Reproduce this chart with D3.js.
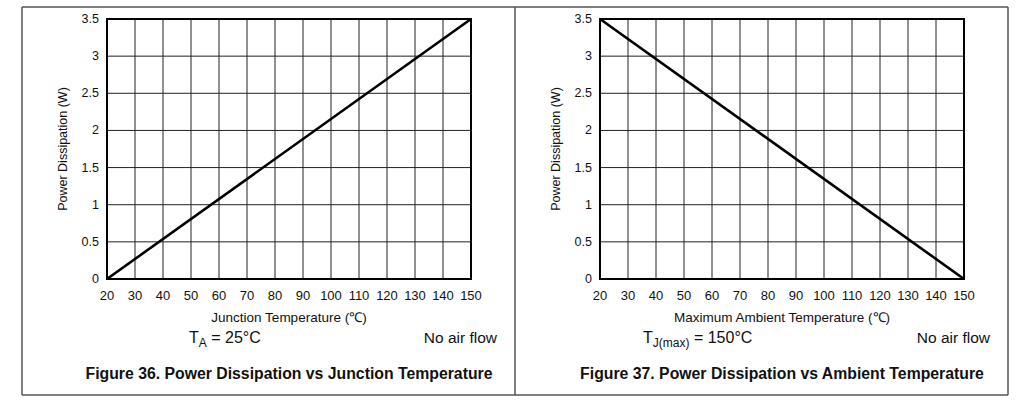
<!DOCTYPE html>
<html>
<head>
<meta charset="utf-8">
<script src="https://cdn.jsdelivr.net/npm/d3@7"></script>
<style>
body{margin:0;background:#fff;}
text{font-family:"Liberation Sans",Arial,sans-serif;fill:#111;}
</style>
</head>
<body>
<div id="chart"></div>
<script>
// data
var xTicks = [20,30,40,50,60,70,80,90,100,110,120,130,140,150];
var yTicks = [0,0.5,1,1.5,2,2.5,3,3.5];
var junctionTemp = [20,150];
var junctionPower = [0,3.5];
var ambientTemp = [20,150];
var ambientPower = [3.5,0];

var svg = d3.select('#chart').append('svg')
  .attr('width',1025).attr('height',413);

// page frame
var frame = svg.append('g').attr('stroke','#555').attr('stroke-width',1.5).attr('fill','none');
frame.append('line').attr('x1',22).attr('y1',7).attr('x2',1008).attr('y2',7);
frame.append('line').attr('x1',22).attr('y1',395).attr('x2',1008).attr('y2',395);
frame.append('line').attr('x1',22).attr('y1',7).attr('x2',22).attr('y2',395);
frame.append('line').attr('x1',515).attr('y1',7).attr('x2',515).attr('y2',395);
frame.append('line').attr('x1',1008).attr('y1',7).attr('x2',1008).attr('y2',395);

function panel(left, xs, ys, xTitle, cond, caption){
  var g = svg.append('g');
  var x = d3.scaleLinear().domain([20,150]).range([left, left+364]);
  var y = d3.scaleLinear().domain([0,3.5]).range([279,19]);

  // grid
  g.selectAll('.vg').data(xTicks).enter().append('line')
    .attr('x1',function(d){return x(d);}).attr('x2',function(d){return x(d);})
    .attr('y1',19).attr('y2',279)
    .attr('stroke','#222').attr('stroke-width',1);
  g.selectAll('.hg').data(yTicks).enter().append('line')
    .attr('y1',function(d){return y(d);}).attr('y2',function(d){return y(d);})
    .attr('x1',left).attr('x2',left+364)
    .attr('stroke','#222').attr('stroke-width',1);
  g.append('rect').attr('x',left).attr('y',19).attr('width',364).attr('height',260)
    .attr('fill','none').attr('stroke','#000').attr('stroke-width',2);

  // tick labels
  g.selectAll('.xl').data(xTicks).enter().append('text')
    .attr('x',function(d){return x(d);}).attr('y',300)
    .attr('text-anchor','middle').attr('font-size',13).text(function(d){return d;});
  g.selectAll('.yl').data(yTicks).enter().append('text')
    .attr('x',left-8).attr('y',function(d){return y(d)+4;})
    .attr('text-anchor','end').attr('font-size',12.5).text(function(d){return d;});

  // axis titles
  g.append('text').attr('x',left+182).attr('y',322).attr('text-anchor','middle')
    .attr('font-size',13.5).text(xTitle);
  g.append('text').attr('transform','translate('+(left-40)+',149) rotate(-90)')
    .attr('text-anchor','middle').attr('font-size',12.5).text('Power Dissipation (W)');

  // curve
  var pts = xs.map(function(d,i){return [d, ys[i]];});
  g.append('path').datum(pts)
    .attr('d', d3.line().x(function(d){return x(d[0]);}).y(function(d){return y(d[1]);}))
    .attr('fill','none').attr('stroke','#000').attr('stroke-width',2.6);

  cond(g, left);
  g.append('text').attr('x',left+390).attr('y',343).attr('text-anchor','end')
    .attr('font-size',15.5).text('No air flow');
  g.append('text').attr('x',left+182).attr('y',379).attr('text-anchor','middle')
    .attr('font-size',15.8).attr('font-weight','bold').text(caption);
}

panel(107, junctionTemp, junctionPower, 'Junction Temperature (\u2103)', function(g,left){
  var t = g.append('text').attr('x',left+82).attr('y',343).attr('font-size',16);
  t.append('tspan').text('T');
  t.append('tspan').attr('dy',4).attr('font-size',12).text('A');
  t.append('tspan').attr('dy',-4).text(' = 25\u00b0C');
}, 'Figure 36. Power Dissipation vs Junction Temperature');

panel(600, ambientTemp, ambientPower, 'Maximum Ambient Temperature (\u2103)', function(g,left){
  var t = g.append('text').attr('x',left+43).attr('y',343).attr('font-size',16);
  t.append('tspan').text('T');
  t.append('tspan').attr('dy',4).attr('font-size',12).text('J(max)');
  t.append('tspan').attr('dy',-4).text(' = 150\u00b0C');
}, 'Figure 37. Power Dissipation vs Ambient Temperature');
</script>
</body>
</html>
